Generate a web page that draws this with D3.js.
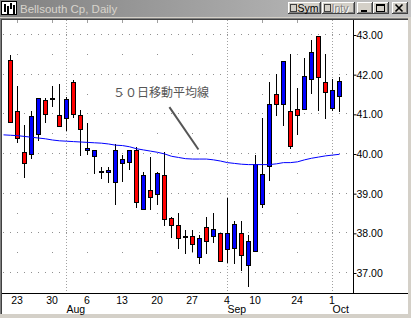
<!DOCTYPE html>
<html>
<head>
<meta charset="utf-8">
<script src="https://cdn.jsdelivr.net/npm/d3@7"></script>
<style>
  body { margin: 0; background: #d4d0c8; }
  svg { display: block; font-family: "Liberation Sans", Arial, sans-serif; }
</style>
</head>
<body>
<svg id="chart" width="411" height="318"></svg>
<script>
// trading days, 2001 (index 0 only carries the moving average)
const days = ["07-19","07-20","07-23","07-24","07-25","07-26","07-27","07-30","07-31",
  "08-01","08-02","08-03","08-06","08-07","08-08","08-09","08-10","08-13","08-14","08-15",
  "08-16","08-17","08-20","08-21","08-22","08-23","08-24","08-27","08-28","08-29","08-30",
  "08-31","09-04","09-05","09-06","09-07","09-10","09-17","09-18","09-19","09-20","09-21",
  "09-24","09-25","09-26","09-27","09-28","10-01","10-02"]

const open  = [null,42.35,41.06,40.05,39.99,40.50,41.36,41.41,40.96,40.90,41.80,40.96,40.10,39.94,39.57,39.53,39.28,39.77,39.78,40.10,38.61,39.09,38.98,39.45,38.38,38.20,37.92,37.92,37.38,38.15,37.91,38.00,37.60,37.63,38.00,37.19,37.55,38.72,39.68,41.51,41.26,41.06,41.11,41.11,41.89,42.95,41.79,41.15,41.45]
const high  = [null,42.48,41.70,40.73,41.06,41.41,41.41,41.69,41.74,41.42,41.85,41.09,40.76,40.10,39.67,39.67,40.24,39.95,40.10,40.16,39.54,39.91,39.54,40.03,38.41,38.51,38.06,38.06,37.94,38.41,38.49,38.00,38.87,38.29,38.29,37.95,39.95,40.89,41.80,42.01,42.34,42.50,41.65,42.40,42.87,42.95,42.50,41.89,41.93]
const low   = [null,40.79,40.29,39.40,39.88,40.34,40.79,41.19,40.70,40.60,40.93,39.97,39.98,39.51,39.39,39.28,38.72,39.30,39.61,38.66,38.60,38.60,38.73,38.20,37.89,37.61,37.48,37.54,37.24,37.49,37.76,37.29,37.26,37.23,37.07,36.65,37.55,38.65,39.33,40.98,40.73,40.14,40.48,41.11,41.53,41.09,40.89,41.09,41.07]
const close = [null,40.79,40.40,39.77,40.95,41.41,41.00,41.40,40.70,41.38,41.00,40.63,40.15,40.10,39.56,39.59,40.10,39.85,40.10,38.78,39.46,38.91,39.52,38.35,38.20,37.87,37.91,37.72,37.87,37.80,38.10,37.29,38.00,38.23,37.44,37.80,39.73,39.49,41.26,41.26,42.34,40.19,40.98,41.96,42.55,41.94,41.54,41.61,41.84]

// 50 day moving average
const ma50 = [40.47,40.46,40.45,40.43,40.41,40.39,40.37,40.34,40.32,40.31,40.30,40.29,40.28,40.27,40.26,40.24,40.21,40.20,40.17,40.12,40.09,40.06,40.03,39.99,39.93,39.90,39.87,39.86,39.86,39.86,39.84,39.81,39.77,39.75,39.73,39.72,39.72,39.72,39.72,39.74,39.77,39.77,39.79,39.84,39.88,39.91,39.94,39.96,39.98]

const priceTicks = [37, 38, 39, 40, 41, 42, 43]
const halfTicks = [37.5, 38.5, 39.5, 40.5, 41.5, 42.5]
const dayTicks = ["07-23","07-30","08-06","08-13","08-20","08-27","09-04","09-10","09-24","10-01"]
const dayLabels = ["23","30","6","13","20","27","4","10","24","1"]
const weekMarks = ["07-23","07-30","08-06","08-13","08-20","08-27","09-17","09-24"]
const monthStarts = ["08-01","09-04","10-01"]
const monthLabels = ["Aug","Sep","Oct"]

const title = "Bellsouth Cp, Daily"
const note = "５０日移動平均線"
const notePos = {day: 15.65, price: 41.42}
const pointer = [{day: 23.7, price: 41.17}, {day: 27.85, price: 40.10}]

const W = 411, H = 318
const plot = {left: 2, right: 353.5, top: 20, bottom: 293.5}
const svg = d3.select('#chart')

const x = d3.scaleLinear().domain([0, 50]).range([3.5, 353.5])
const y = d3.scaleLinear().domain([37, 43]).range([272.5, 34.5])
const idx = d => days.indexOf(d)

// window frame
const defs = svg.append('defs')
const grad = defs.append('linearGradient').attr('id', 'tb')
grad.append('stop').attr('offset', '0%').attr('stop-color', '#808080')
grad.append('stop').attr('offset', '100%').attr('stop-color', '#c4c4c4')

svg.append('rect').attr('width', W).attr('height', H).attr('fill', '#d4d0c8')
svg.append('rect').attr('width', W).attr('height', 17).attr('fill', 'url(#tb)')

// title icon
const icon = svg.append('g')
icon.append('rect').attr('x', 1.5).attr('y', 1.5).attr('width', 15).attr('height', 13)
    .attr('fill', '#fff').attr('stroke', '#000')
;[[4, 4, 8], [7, 6, 9], [10, 3, 6], [13, 5, 9]].forEach(b => {
  icon.append('rect').attr('x', b[0]).attr('y', b[1]).attr('width', 2).attr('height', b[2]).attr('fill', '#000')
})

svg.append('text').attr('x', 20).attr('y', 12.5)
    .attr('font-size', 11.5).attr('fill', '#d8d4cc').text(title)

function button(bx, bw) {
  const g = svg.append('g')
  g.append('rect').attr('x', bx).attr('y', 2).attr('width', bw).attr('height', 12).attr('fill', '#404040')
  g.append('rect').attr('x', bx).attr('y', 2).attr('width', bw - 1).attr('height', 11).attr('fill', '#fff')
  g.append('rect').attr('x', bx + 1).attr('y', 3).attr('width', bw - 2).attr('height', 10).attr('fill', '#808080')
  g.append('rect').attr('x', bx + 1).attr('y', 3).attr('width', bw - 3).attr('height', 9).attr('fill', '#d4d0c8')
  return g
}
const sym = button(288, 33)
sym.append('rect').attr('x', 290.5).attr('y', 4.5).attr('width', 6).attr('height', 7).attr('fill', '#d4d0c8').attr('stroke', '#404040')
sym.append('text').attr('x', 297.5).attr('y', 12).attr('font-size', 10.5).text('Sym')
const intv = button(322, 33)
intv.append('rect').attr('x', 324.5).attr('y', 4.5).attr('width', 6).attr('height', 7).attr('fill', '#d4d0c8').attr('stroke', '#404040')
intv.append('text').attr('x', 332.5).attr('y', 13).attr('font-size', 10.5).attr('fill', '#fff').text('Intv')
intv.append('text').attr('x', 331.5).attr('y', 12).attr('font-size', 10.5).attr('fill', '#808080').text('Intv')
const mini = button(357, 16)
mini.append('rect').attr('x', 361).attr('y', 10).attr('width', 6).attr('height', 2).attr('fill', '#000')
const maxi = button(373, 16)
maxi.append('rect').attr('x', 376.5).attr('y', 4.5).attr('width', 8).attr('height', 7).attr('fill', 'none').attr('stroke', '#000')
maxi.append('rect').attr('x', 376).attr('y', 4).attr('width', 9).attr('height', 2).attr('fill', '#000')
const closeB = button(392, 16)
closeB.append('path').attr('d', 'M395.5,4.5 L402.5,11.5 M402.5,4.5 L395.5,11.5').attr('stroke', '#000').attr('stroke-width', 1.6)

// chart panel
svg.append('rect').attr('x', 0).attr('y', 18).attr('width', 408).attr('height', 296).attr('fill', '#808080')
svg.append('rect').attr('x', 1).attr('y', 19).attr('width', 407).attr('height', 295).attr('fill', '#404040')
svg.append('rect').attr('x', 2).attr('y', 20).attr('width', 406).attr('height', 294).attr('fill', '#fff')

const grid = svg.append('g')
// integer lines: a dot on every day
priceTicks.forEach(p => {
  d3.range(0, 50).forEach(i => {
    grid.append('rect').attr('x', Math.floor(x(i))).attr('y', Math.floor(y(p)))
        .attr('width', 1).attr('height', 1).attr('fill', '#909090')
  })
})
// half lines: a dot on each week
halfTicks.forEach(p => {
  weekMarks.forEach(d => {
    grid.append('rect').attr('x', Math.floor(x(idx(d)))).attr('y', Math.floor(y(p)))
        .attr('width', 1).attr('height', 1).attr('fill', '#909090')
  })
})
// week marks at the top
weekMarks.forEach(d => {
  grid.append('line').attr('x1', x(idx(d))).attr('x2', x(idx(d)))
      .attr('y1', plot.top).attr('y2', plot.top + 3).attr('stroke', '#a0a0a0')
})
// month separators
monthStarts.forEach(d => {
  grid.append('line').attr('x1', x(idx(d))).attr('x2', x(idx(d)))
      .attr('y1', plot.top).attr('y2', plot.bottom)
      .attr('stroke', '#a0a0a0').attr('stroke-dasharray', '1,2')
})

// candles
const candles = svg.append('g')
d3.range(1, days.length).forEach(i => {
  const cx = x(i)
  const up = close[i] >= open[i]
  candles.append('line').attr('x1', cx).attr('x2', cx)
      .attr('y1', Math.round(y(high[i]))).attr('y2', Math.round(y(low[i])) + 1)
      .attr('stroke', '#000')
  const top = Math.round(y(Math.max(open[i], close[i]))) + 0.5
  let bot = Math.round(y(Math.min(open[i], close[i]))) + 0.5
  if (bot - top < 1) bot = top + 1
  candles.append('rect').attr('x', cx - 2).attr('y', top).attr('width', 4).attr('height', bot - top)
      .attr('fill', up ? '#0000ff' : '#ff0000').attr('stroke', '#000')
})

// moving average
svg.append('path').datum(ma50)
    .attr('d', d3.line().x((d, i) => x(i)).y(d => y(d)))
    .attr('fill', 'none').attr('stroke', '#0000ff').attr('stroke-width', 1)

// note
svg.append('text').attr('x', x(notePos.day)).attr('y', y(notePos.price))
    .attr('font-family', '"Noto Sans CJK JP", sans-serif').attr('font-size', 12)
    .attr('fill', '#555').text(note)
svg.append('line')
    .attr('x1', x(pointer[0].day)).attr('y1', y(pointer[0].price))
    .attr('x2', x(pointer[1].day)).attr('y2', y(pointer[1].price))
    .attr('stroke', '#555').attr('stroke-width', 2)

// axes
svg.append('line').attr('x1', plot.right).attr('x2', plot.right)
    .attr('y1', plot.top).attr('y2', plot.bottom).attr('stroke', '#000')
svg.append('line').attr('x1', plot.left).attr('x2', 408)
    .attr('y1', plot.bottom).attr('y2', plot.bottom).attr('stroke', '#000')

const yAxis = svg.append('g').attr('transform', `translate(${plot.right},0.5)`)
    .call(d3.axisRight(y).tickValues(priceTicks).tickSize(3).tickPadding(0).tickFormat(d3.format('.2f')))
yAxis.select('.domain').remove()
yAxis.selectAll('text').attr('font-size', 10.5).attr('font-family', '"Liberation Sans", Arial, sans-serif').attr('fill', '#000')
yAxis.selectAll('line').attr('stroke', '#000')

const xAxis = svg.append('g').attr('transform', `translate(-1,${plot.bottom})`)
    .call(d3.axisBottom(x).tickValues(dayTicks.map(idx)).tickSize(0).tickPadding(3)
      .tickFormat((d, i) => dayLabels[i]))
xAxis.select('.domain').remove()
xAxis.selectAll('text').attr('font-size', 10.5).attr('font-family', '"Liberation Sans", Arial, sans-serif').attr('fill', '#000')

svg.append('g').selectAll('text').data(monthStarts).join('text')
    .attr('x', d => x(idx(d))).attr('y', 313)
    .attr('font-size', 10.5).attr('fill', '#000')
    .text((d, i) => monthLabels[i])
</script>
</body>
</html>
